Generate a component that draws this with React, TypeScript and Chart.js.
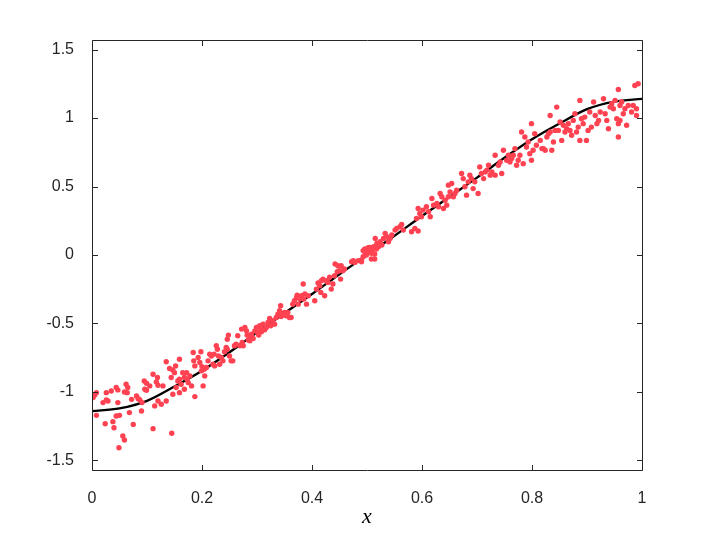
import React, { useEffect, useRef } from "react";
import { Chart, registerables } from "chart.js";

Chart.register(...registerables);

const leftX: number[] = [
  0.002, 0.008, 0.005, 0.008, 0.020, 0.026, 0.029, 0.026, 0.035, 0.044,
  0.047, 0.047, 0.044, 0.050, 0.024, 0.038, 0.040, 0.056, 0.059, 0.049,
  0.062, 0.065, 0.064, 0.059, 0.068, 0.075, 0.072, 0.081, 0.084, 0.087,
  0.090, 0.091, 0.095, 0.099, 0.096, 0.099, 0.105, 0.111, 0.111, 0.114,
  0.117, 0.120, 0.119, 0.120, 0.126, 0.129, 0.135, 0.135, 0.141, 0.147,
  0.144, 0.147, 0.150, 0.152, 0.145, 0.153, 0.156, 0.159, 0.159, 0.162,
  0.165, 0.168, 0.172, 0.173, 0.175, 0.178, 0.181, 0.168, 0.159, 0.187,
  0.184, 0.185, 0.187, 0.193, 0.196, 0.198, 0.200, 0.199, 0.202, 0.205,
  0.204, 0.208, 0.211, 0.214, 0.217, 0.220, 0.222, 0.226, 0.228, 0.230,
  0.232, 0.223, 0.235, 0.238, 0.241, 0.244, 0.246, 0.248, 0.250, 0.253,
  0.256, 0.246, 0.259, 0.262, 0.265, 0.269, 0.272, 0.273, 0.275, 0.278,
  0.281, 0.282, 0.284, 0.287, 0.287, 0.290, 0.293, 0.296, 0.299, 0.301,
  0.303, 0.305, 0.307, 0.308, 0.311, 0.314, 0.317, 0.320, 0.323, 0.325,
  0.329, 0.332, 0.335, 0.338, 0.341, 0.343, 0.344, 0.347, 0.350, 0.353,
  0.356, 0.359, 0.362, 0.365, 0.368, 0.372, 0.373, 0.375, 0.378, 0.381,
  0.384, 0.385, 0.387, 0.390, 0.393, 0.405, 0.408, 0.411, 0.414, 0.416,
  0.417, 0.420, 0.423, 0.426, 0.429, 0.432, 0.435, 0.438, 0.441, 0.442,
  0.446, 0.447, 0.450, 0.453, 0.452, 0.456, 0.459, 0.472, 0.475, 0.478,
  0.484, 0.490, 0.493, 0.496, 0.499, 0.502, 0.505, 0.508, 0.511, 0.514,
  0.508, 0.514, 0.517,
];
const leftY: number[] = [
  -1.041, -1.005, -1.022, -1.171, -1.078, -1.059, -1.066, -1.005, -0.993, -0.968,
  -0.985, -1.078, -1.176, -1.171, -1.232, -1.217, -1.261, -1.322, -1.351, -1.407,
  -0.944, -0.968, -1.005, -1.000, -1.151, -1.237, -1.054, -1.029, -1.049, -1.059,
  -1.139, -1.078, -0.920, -0.937, -0.980, -0.988, -0.956, -0.871, -1.268, -1.102,
  -0.927, -0.951, -0.895, -1.066, -1.090, -0.956, -0.780, -1.066, -0.829, -0.839,
  -0.895, -1.017, -0.859, -0.810, -1.302, -0.968, -0.920, -0.761, -0.907, -0.944,
  -0.859, -0.895, -0.859, -0.907, -0.932, -0.883, -0.956, -0.980, -1.005, -1.034,
  -0.712, -0.773, -0.810, -0.749, -0.785, -0.707, -0.815, -0.846, -0.956, -0.883,
  -0.834, -0.822, -0.773, -0.724, -0.737, -0.798, -0.724, -0.663, -0.688, -0.737,
  -0.798, -0.810, -0.749, -0.773, -0.707, -0.676, -0.615, -0.585, -0.737, -0.773,
  -0.773, -0.688, -0.663, -0.651, -0.590, -0.663, -0.541, -0.639, -0.663, -0.529,
  -0.554, -0.585, -0.620, -0.627, -0.590, -0.578, -0.610, -0.554, -0.529, -0.566,
  -0.585, -0.517, -0.537, -0.561, -0.505, -0.546, -0.529, -0.493, -0.463, -0.517,
  -0.480, -0.505, -0.456, -0.432, -0.407, -0.371, -0.449, -0.432, -0.420, -0.444,
  -0.420, -0.456, -0.456, -0.359, -0.334, -0.310, -0.293, -0.359, -0.322, -0.298,
  -0.212, -0.322, -0.285, -0.359, -0.298, -0.334, -0.249, -0.205, -0.224, -0.273,
  -0.188, -0.176, -0.298, -0.188, -0.200, -0.163, -0.249, -0.212, -0.151, -0.066,
  -0.122, -0.078, -0.115, -0.078, -0.176, -0.115, -0.102, -0.049, -0.041, -0.054,
  -0.041, -0.049, 0.032, 0.044, 0.007, 0.032, 0.056, 0.020, 0.044, 0.007,
  -0.029, -0.029, 0.044,
];

const rightX: number[] = [
  0.490, 0.493, 0.496, 0.499, 0.502, 0.505, 0.508, 0.512, 0.515, 0.518,
  0.521, 0.524, 0.527, 0.530, 0.533, 0.536, 0.539, 0.542, 0.545, 0.551,
  0.554, 0.560, 0.563, 0.566, 0.581, 0.587, 0.593, 0.590, 0.593, 0.596,
  0.599, 0.602, 0.608, 0.612, 0.615, 0.618, 0.621, 0.627, 0.630, 0.633,
  0.636, 0.639, 0.642, 0.645, 0.648, 0.648, 0.651, 0.654, 0.657, 0.660,
  0.663, 0.672, 0.675, 0.678, 0.681, 0.684, 0.687, 0.690, 0.693, 0.696,
  0.702, 0.705, 0.708, 0.712, 0.715, 0.718, 0.721, 0.724, 0.727, 0.733,
  0.733, 0.739, 0.742, 0.745, 0.748, 0.754, 0.757, 0.760, 0.763, 0.766,
  0.769, 0.772, 0.775, 0.778, 0.784, 0.781, 0.787, 0.790, 0.793, 0.796,
  0.799, 0.799, 0.802, 0.805, 0.808, 0.815, 0.818, 0.821, 0.824, 0.827,
  0.830, 0.833, 0.836, 0.833, 0.839, 0.842, 0.845, 0.848, 0.851, 0.854,
  0.857, 0.860, 0.863, 0.866, 0.869, 0.872, 0.875, 0.878, 0.881, 0.884,
  0.887, 0.887, 0.890, 0.893, 0.896, 0.899, 0.902, 0.905, 0.908, 0.912,
  0.915, 0.918, 0.921, 0.924, 0.930, 0.933, 0.936, 0.939, 0.942, 0.945,
  0.948, 0.951, 0.954, 0.957, 0.957, 0.960, 0.963, 0.966, 0.969, 0.972,
  0.975, 0.981, 0.984, 0.987, 0.990, 0.993, 0.990, 0.957, 0.960,
];
const rightY: number[] = [
  -0.036, -0.012, 0.024, 0.000, 0.053, 0.036, 0.012, 0.061, 0.121, 0.085,
  0.061, 0.097, 0.073, 0.121, 0.158, 0.133, 0.097, 0.121, 0.146, 0.182,
  0.194, 0.206, 0.223, 0.182, 0.170, 0.194, 0.175, 0.267, 0.340, 0.303,
  0.279, 0.328, 0.352, 0.316, 0.279, 0.413, 0.364, 0.376, 0.352, 0.449,
  0.425, 0.340, 0.400, 0.364, 0.425, 0.510, 0.461, 0.522, 0.425, 0.449,
  0.473, 0.595, 0.558, 0.498, 0.437, 0.534, 0.583, 0.558, 0.485, 0.534,
  0.449, 0.643, 0.595, 0.558, 0.607, 0.619, 0.655, 0.583, 0.607, 0.583,
  0.728, 0.655, 0.680, 0.595, 0.765, 0.692, 0.728, 0.680, 0.704, 0.728,
  0.777, 0.655, 0.692, 0.728, 0.667, 0.898, 0.862, 0.789, 0.825, 0.740,
  0.959, 0.692, 0.765, 0.886, 0.801, 0.837, 0.777, 0.777, 0.765, 0.862,
  0.886, 0.898, 0.765, 1.019, 0.825, 0.910, 1.080, 0.910, 0.971, 0.837,
  0.947, 0.898, 0.922, 0.959, 0.910, 0.874, 0.983, 1.032, 0.898, 0.934,
  0.837, 1.129, 0.995, 0.959, 1.007, 0.837, 0.910, 1.044, 0.934, 1.117,
  1.019, 0.959, 0.983, 1.044, 1.141, 1.032, 0.983, 0.922, 1.080, 1.104,
  1.068, 1.129, 0.995, 1.209, 0.862, 1.092, 1.117, 1.032, 1.068, 0.947,
  1.092, 1.044, 1.092, 1.238, 1.019, 1.250, 1.068, 0.959, 0.983,
];

// Fitted curve
const curveX: number[] = [
  0, 0.05, 0.1, 0.15, 0.2, 0.25, 0.3, 0.35, 0.4, 0.45, 0.5,
  0.55, 0.6, 0.65, 0.7, 0.75, 0.8, 0.85, 0.9, 0.95, 1,
];
const curveY: number[] = [
  -1.14, -1.12, -1.065, -0.96, -0.845, -0.71, -0.565, -0.425, -0.285, -0.14, 0,
  0.14, 0.285, 0.425, 0.565, 0.71, 0.845, 0.96, 1.065, 1.12, 1.14,
];

const xTicks: number[] = [0, 0.2, 0.4, 0.6, 0.8, 1];
const yTicks: number[] = [-1.5, -1, -0.5, 0, 0.5, 1, 1.5];
const xLabel = "x";

const AXIS_COLOR = "#262626";
const POINT_COLOR = "#ff4252";

const boxPlugin = {
  id: "matlabBox",
  afterDraw(chart: any) {
    const { ctx, chartArea } = chart;
    const { left, right, top, bottom } = chartArea;
    const xs = chart.scales.x;
    const ys = chart.scales.y;
    const tl = 5.5;
    ctx.save();
    ctx.strokeStyle = AXIS_COLOR;
    ctx.lineWidth = 1;
    ctx.beginPath();
    ctx.rect(left + 0.5, top + 0.5, right - left, bottom - top);
    xTicks.forEach((v) => {
      const p = Math.round(xs.getPixelForValue(v)) + 0.5;
      ctx.moveTo(p, bottom + 0.5);
      ctx.lineTo(p, bottom + 0.5 - tl);
      ctx.moveTo(p, top + 0.5);
      ctx.lineTo(p, top + 0.5 + tl);
    });
    yTicks.forEach((v) => {
      const p = Math.round(ys.getPixelForValue(v)) + 0.5;
      ctx.moveTo(left + 0.5, p);
      ctx.lineTo(left + 0.5 + tl, p);
      ctx.moveTo(right + 0.5, p);
      ctx.lineTo(right + 0.5 - tl, p);
    });
    ctx.stroke();
    ctx.restore();
  },
};

export default function App() {
  const canvasRef = useRef<HTMLCanvasElement | null>(null);

  useEffect(() => {
    if (!canvasRef.current) return;
    const scatterX = leftX.concat(rightX);
    const scatterY = leftY.concat(rightY);
    const scatterData = scatterX.map((x, i) => ({ x, y: scatterY[i] }));
    const curveData = curveX.map((x, i) => ({ x, y: curveY[i] }));
    const tickFont = { family: "'Liberation Sans', Arial, sans-serif", size: 16 };

    const chart = new Chart(canvasRef.current, {
      type: "scatter",
      data: {
        datasets: [
          {
            label: "data",
            data: scatterData,
            backgroundColor: POINT_COLOR,
            borderWidth: 0,
            pointRadius: 2.7,
            order: 0,
          },
          {
            label: "fit",
            data: curveData,
            showLine: true,
            borderColor: "#000000",
            borderWidth: 2.4,
            pointRadius: 0,
            cubicInterpolationMode: "monotone",
            order: 1,
          } as any,
        ],
      },
      options: {
        animation: false,
        responsive: false,
        layout: { padding: { left: 0, right: 68, top: 40, bottom: 0 } },
        plugins: {
          legend: { display: false },
          tooltip: { enabled: false },
        },
        scales: {
          x: {
            type: "linear",
            position: "bottom",
            min: 0,
            max: 1,
            grid: { display: false },
            border: { display: false },
            afterBuildTicks: (s: any) => {
              s.ticks = xTicks.map((v) => ({ value: v }));
            },
            afterFit: (s: any) => {
              s.height = 63;
            },
            ticks: {
              font: tickFont,
              color: AXIS_COLOR,
              padding: 11,
              maxRotation: 0,
              autoSkip: false,
              callback: (v: any) => String(Number(v)),
            },
            title: {
              display: true,
              text: xLabel,
              color: "#000000",
              font: { family: "'Liberation Serif', 'DejaVu Serif', serif", style: "italic", size: 22 },
              padding: { top: 0, bottom: 3 },
            },
          },
          y: {
            type: "linear",
            min: -1.57,
            max: 1.57,
            grid: { display: false },
            border: { display: false },
            afterBuildTicks: (s: any) => {
              s.ticks = yTicks.map((v) => ({ value: v }));
            },
            afterFit: (s: any) => {
              s.width = 92;
            },
            ticks: {
              font: tickFont,
              color: AXIS_COLOR,
              padding: 10,
              autoSkip: false,
              callback: (v: any) => String(Number(v)),
            },
          },
        },
      } as any,
      plugins: [boxPlugin],
    });
    return () => chart.destroy();
  }, []);

  return (
    <div style={{ position: "absolute", left: 0, top: 0, width: 710, height: 533, background: "#ffffff" }}>
      <canvas ref={canvasRef} width={710} height={533} style={{ display: "block" }} />
    </div>
  );
}
